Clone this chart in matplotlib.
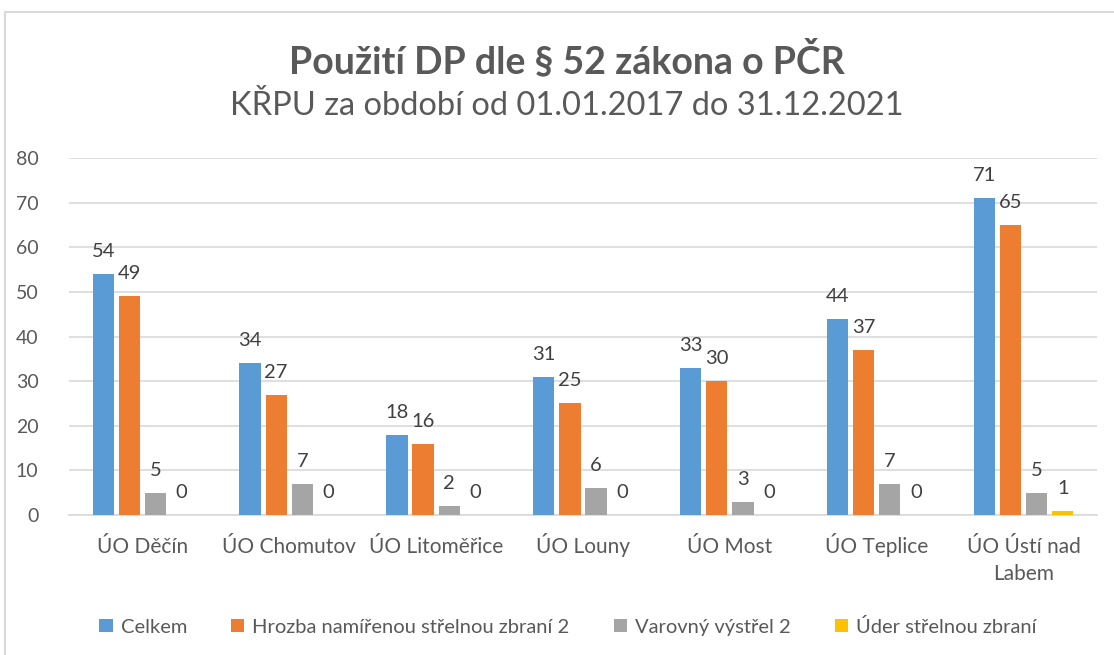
import numpy as np
import matplotlib.pyplot as plt
from matplotlib.patches import Rectangle

plt.rcParams['font.family'] = ['Lato', 'DejaVu Sans']

categories = ['ÚO Děčín', 'ÚO Chomutov', 'ÚO Litoměřice', 'ÚO Louny',
              'ÚO Most', 'ÚO Teplice', 'ÚO Ústí nad\nLabem']
series_names = ['Celkem', 'Hrozba namířenou střelnou zbraní 2',
                'Varovný výstřel 2', 'Úder střelnou zbraní']
celkem = [54, 34, 18, 31, 33, 44, 71]
hrozba = [49, 27, 16, 25, 30, 37, 65]
varovny = [5, 7, 2, 6, 3, 7, 5]
uder = [0, 0, 0, 0, 0, 0, 1]
colors = ['#5b9bd5', '#ed7d31', '#a5a5a5', '#ffc000']
txt = '#595959'

fig = plt.figure(figsize=(11.14, 6.55), dpi=100)
ax = fig.add_axes([0.0619, 0.2137, 0.9228, 0.5450])

x = np.arange(len(categories))
w = 0.145
step = 0.178
for i, (vals, name, c) in enumerate(zip([celkem, hrozba, varovny, uder], series_names, colors)):
    pos = x + (i - 1.5) * step
    ax.bar(pos, vals, w, color=c, label=name, zorder=3)
    for p, v in zip(pos, vals):
        ax.annotate(str(v), (p, v), xytext=(0, 14), textcoords='offset pixels',
                    ha='center', va='bottom', fontsize=14.5, color='#404040')

ax.set_xlim(-0.5, len(categories) - 0.5)
ax.set_ylim(0, 80)
ax.set_yticks(range(0, 81, 10))
ax.yaxis.grid(True, color='#d9d9d9', linewidth=1.2, zorder=0)
ax.set_axisbelow(True)
for s in ['top', 'right', 'left']:
    ax.spines[s].set_visible(False)
ax.spines['bottom'].set_color('#d9d9d9')
ax.spines['bottom'].set_linewidth(1.2)
ax.tick_params(axis='both', length=0, labelsize=14, colors=txt)
ax.tick_params(axis='y', pad=22)
ax.set_xticks(x)
ax.set_xticklabels([])

# category labels drawn on a common baseline
for xi, cat in zip(x, categories):
    for j, line in enumerate(cat.split('\n')):
        ax.annotate(line, (xi, 0), xycoords=('data', 'axes fraction'),
                    xytext=(0, -38 - 27 * j), textcoords='offset pixels',
                    ha='center', va='baseline', fontsize=15, color=txt)

fig.text(0.509, 0.908, 'Použití DP dle § 52 zákona o PČR', ha='center', va='center',
         fontsize=27, fontweight='bold', color=txt)
fig.text(0.509, 0.838, 'KŘPU za období od 01.01.2017 do 31.12.2021', ha='center', va='center',
         fontsize=23.5, color=txt)

fig.legend(loc='center', bbox_to_anchor=(0.51, 0.043), ncol=4, frameon=False,
           fontsize=14.5, labelcolor=txt, handlelength=0.65, handleheight=0.65,
           handletextpad=0.4, columnspacing=2.2)

fig.patches.append(Rectangle((0.0045, -0.01), 1.2, 0.991, transform=fig.transFigure,
                             fill=False, edgecolor='#d9d9d9', linewidth=1.5))

fig.savefig('out.png', dpi=100)
